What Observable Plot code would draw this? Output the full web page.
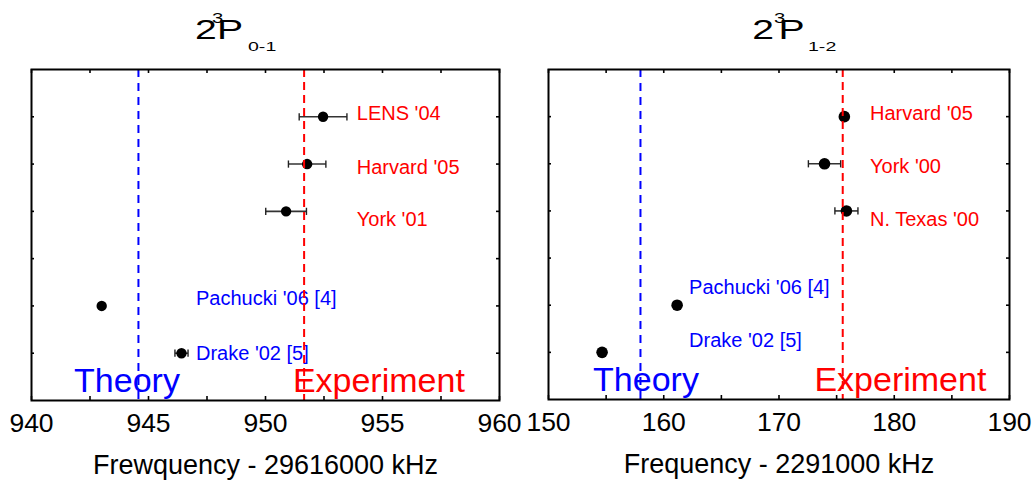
<!DOCTYPE html>
<html><head><meta charset="utf-8">
<script src="https://cdn.jsdelivr.net/npm/d3@7"></script>
<script src="https://cdn.jsdelivr.net/npm/@observablehq/plot@0.6"></script>
<style>
body{margin:0;background:#fff;}
#wrap{position:relative;width:1035px;height:481px;overflow:hidden;font-family:"Liberation Sans",Arial,sans-serif;background:#fff;}
#wrap > svg{position:absolute;top:0;}
</style></head><body><div id="wrap"></div>
<script>
// ---------- data: left panel (2^3P 0-1) ----------
const leftNames   = ["LENS '04", "Harvard '05", "York '01", "Pachucki '06 [4]", "Drake '02 [5]"];
const leftValues  = [952.46, 951.78, 950.88, 943.0, 946.41];
const leftErrors  = [1.02, 0.80, 0.87, 0.0, 0.28];
const leftRows    = [6, 5, 4, 2, 1];
const leftKinds   = ["exp", "exp", "exp", "theory", "theory"];
const leftLabelX  = [953.9, 953.9, 953.9, 947.03, 947.03];
const leftLabelY  = [6.06, 4.92, 3.83, 2.16, 1.0];
const leftTheoryLine = 944.57;
const leftExpLine    = 951.65;
const leftTheoryTextX = 941.82, leftExpTextX = 951.17;
const leftMajorTicks = [940, 945, 950, 955, 960];
const leftMinorTicks = [940, 942.5, 945, 947.5, 950, 952.5, 955, 957.5, 960];
const leftXLabel = "Frewquency - 29616000 kHz";

// ---------- data: right panel (2^3P 1-2) ----------
const rightNames  = ["Harvard '05", "York '00", "N. Texas '00", "Pachucki '06 [4]", "Drake '02 [5]"];
const rightValues = [175.67, 173.95, 175.85, 161.16, 154.65];
const rightErrors = [0.3, 1.40, 1.00, 0.0, 0.0];
const rightRows   = [6, 5, 4, 2, 1];
const rightKinds  = ["exp", "exp", "exp", "theory", "theory"];
const rightLabelX = [177.9, 177.9, 177.9, 162.2, 162.2];
const rightLabelY = [6.06, 4.94, 3.81, 2.38, 1.26];
const rightTheoryLine = 157.98;
const rightExpLine    = 175.53;
const rightTheoryTextX = 153.87, rightExpTextX = 173.07;
const rightMajorTicks = [150, 160, 170, 180, 190];
const rightMinorTicks = [150, 155, 160, 165, 170, 175, 180, 185, 190];
const rightXLabel = "Frequency - 2291000 kHz";

const rowTicks = [1, 2, 3, 4, 5, 6];
const rowDomain = [0, 7];

const FONT = '"Liberation Sans", Arial, sans-serif';
const BLUE = "#0000ff", RED = "#ff0000";

const capSymbol = {
  draw(ctx, size) {
    const h = Math.sqrt(size / Math.PI);
    ctx.moveTo(0, -h); ctx.lineTo(0, h);
  }
};

function panel(o) {
  const rows = o.names.map((n, i) => ({
    name: n, v: o.values[i], e: o.errors[i], row: o.rows[i], kind: o.kinds[i],
    lx: o.labelX[i], ly: o.labelY[i]
  }));
  const bars = rows.filter(d => d.e > 0);
  const caps = bars.flatMap(d => [{x: d.v - d.e, y: d.row}, {x: d.v + d.e, y: d.row}]);
  const innerH = o.height - o.mt - o.mb;
  const innerW = o.width - o.ml - o.mr;
  return Plot.plot({
    width: o.width, height: o.height,
    marginTop: o.mt, marginBottom: o.mb, marginLeft: o.ml, marginRight: o.mr,
    style: {background: "transparent", overflow: "visible", fontFamily: FONT, color: "black"},
    x: {domain: o.domain},
    y: {domain: rowDomain, axis: null},
    marks: [
      Plot.text(rows, {x: "lx", y: "ly", text: "name", fill: d => d.kind === "exp" ? RED : BLUE,
        fontSize: 20, textAnchor: "start", lineAnchor: "middle"}),
      Plot.text(["Theory"], {x: o.theoryTextX, y: 0.42, text: d => d, fill: BLUE, fontSize: 34, textAnchor: "start", lineAnchor: "middle"}),
      Plot.text(["Experiment"], {x: o.expTextX, y: 0.42, text: d => d, fill: RED, fontSize: 34, textAnchor: "start", lineAnchor: "middle"}),
      Plot.link(bars, {x1: d => d.v - d.e, x2: d => d.v + d.e, y1: "row", y2: "row", stroke: "#333", strokeWidth: 1.6}),
      Plot.dot(caps, {x: "x", y: "y", symbol: capSymbol, r: 3.6, stroke: "#222", strokeWidth: 1.4, fill: "none"}),
      Plot.dot(rows, {x: "v", y: "row", r: o.r, fill: "black", stroke: "none"}),
      Plot.ruleX([o.theoryLine], {x: d => d, stroke: BLUE, strokeWidth: 2, strokeDasharray: "8,6"}),
      Plot.ruleX([o.expLine], {x: d => d, stroke: RED, strokeWidth: 2, strokeDasharray: "8,5"}),
      Plot.ruleX(o.minor, {x: d => d, insetTop: innerH - 4, stroke: "black", strokeWidth: 1.6}),
      Plot.ruleX(o.minor, {x: d => d, insetBottom: innerH - 4, stroke: "black", strokeWidth: 1.6}),
      Plot.ruleY(rowTicks, {y: d => d, insetRight: innerW - 3, stroke: "black", strokeWidth: 1.6}),
      Plot.ruleY(rowTicks, {y: d => d, insetLeft: innerW - 3, stroke: "black", strokeWidth: 1.6}),
      Plot.frame({stroke: "black", strokeWidth: 2}),
      Plot.axisX({ticks: o.major, tickSize: 0, tickPadding: 13, fontSize: 26.5, label: null, tickFormat: d => String(d)}),
      Plot.text([o.xLabel], {frameAnchor: "bottom", dy: 65, text: d => d, fontSize: 27, lineAnchor: "middle", fill: "black"})
    ]
  });
}

const wrap = document.getElementById("wrap");

const left = panel({
  names: leftNames, values: leftValues, errors: leftErrors, rows: leftRows, kinds: leftKinds,
  labelX: leftLabelX, labelY: leftLabelY, theoryLine: leftTheoryLine, expLine: leftExpLine,
  theoryTextX: leftTheoryTextX, expTextX: leftExpTextX, major: leftMajorTicks, minor: leftMinorTicks,
  xLabel: leftXLabel, domain: [940, 960], width: 525, height: 481, mt: 69, mb: 81, ml: 31, mr: 26, r: 5.2
});
left.style.left = "0px";
wrap.appendChild(left);

const right = panel({
  names: rightNames, values: rightValues, errors: rightErrors, rows: rightRows, kinds: rightKinds,
  labelX: rightLabelX, labelY: rightLabelY, theoryLine: rightTheoryLine, expLine: rightExpLine,
  theoryTextX: rightTheoryTextX, expTextX: rightExpTextX, major: rightMajorTicks, minor: rightMinorTicks,
  xLabel: rightXLabel, domain: [150, 190], width: 520, height: 481, mt: 69, mb: 82, ml: 33, mr: 26, r: 5.8
});
right.style.left = "515px";
wrap.appendChild(right);

// ---------- titles: 2^3P with subscript (one text element each, horizontally stretched) ----------
const SX = 1.45;
const titles = [
  {x2: 195, x3: 212, xP: 217, xSub: 248, sub: "0-1"},
  {x2: 752.3, x3: 774, xP: 778.5, xSub: 808, sub: "1-2"}
];
const tsvg = d3.create("svg").attr("width", 1035).attr("height", 60)
  .style("left", "0px").style("overflow", "visible")
  .attr("font-family", FONT).attr("fill", "black");
for (const t of titles) {
  const txt = tsvg.append("text").attr("transform", `scale(${SX},1)`);
  txt.append("tspan").attr("x", t.x2 / SX).attr("y", 39.3).attr("font-size", 27).text("2");
  txt.append("tspan").attr("x", t.x3 / SX).attr("y", 23.3).attr("font-size", 14).text("3");
  txt.append("tspan").attr("x", t.xP / SX).attr("y", 39.3).attr("font-size", 27).text("P");
  txt.append("tspan").attr("x", t.xSub / SX).attr("y", 50.7).attr("font-size", 13.5).text(t.sub);
}
wrap.appendChild(tsvg.node());
</script>
</body></html>
